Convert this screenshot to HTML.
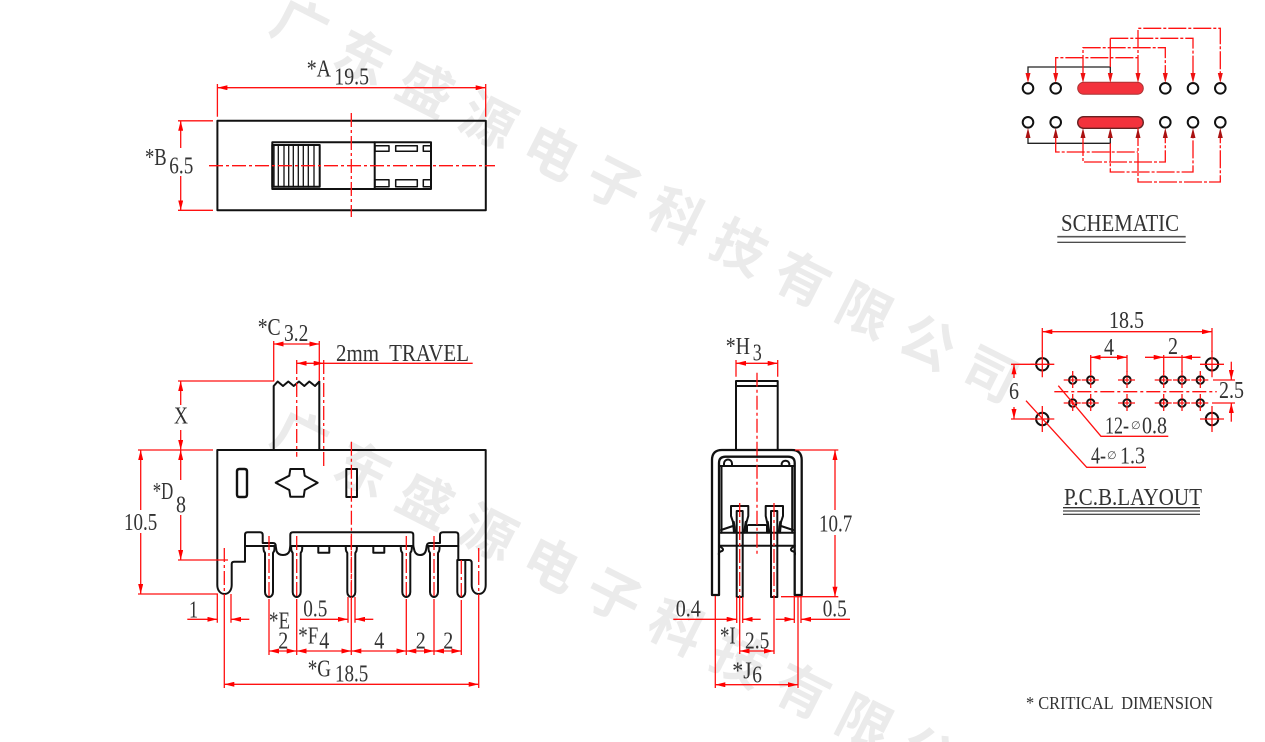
<!DOCTYPE html>
<html><head><meta charset="utf-8"><style>
html,body{margin:0;padding:0;background:#fff;width:1265px;height:742px;overflow:hidden}
svg{display:block}
.t{font-family:"Liberation Serif","DejaVu Serif",serif;font-size:24px;fill:#333}
.b{fill:none;stroke:#111;stroke-width:2;stroke-linejoin:round;stroke-linecap:round}
.r{fill:none;stroke:#f11;stroke-width:1.3}
.c{fill:none;stroke:#f11;stroke-width:1.3;stroke-dasharray:14 3 3 3}
.a{fill:none;stroke:#f11;stroke-width:1.3;marker-start:url(#m);marker-end:url(#m)}
.e{fill:none;stroke:#f11;stroke-width:1.3;marker-end:url(#m)}
.w{font-family:"Noto Sans CJK SC","Liberation Sans",sans-serif;font-weight:700;font-size:54px;fill:#ebebeb;text-anchor:middle}
</style></head><body>
<svg width="1265" height="742" viewBox="0 0 1265 742" xmlns="http://www.w3.org/2000/svg">
<defs>
<marker id="m" viewBox="0 0 10 5" refX="10" refY="2.5" markerWidth="10" markerHeight="5" markerUnits="userSpaceOnUse" orient="auto-start-reverse"><path d="M0 0L10 2.5L0 5z" fill="#f00"/></marker>
<g id="pin"><path class="b" d="M-5.5 546v3q0 2 1.5 4V592a4 5 0 0 0 8 0V553q1.5-2 1.5-4v-3"/><path class="c" d="M0 536V600"/></g>
<g id="sm"><circle r="3.7" fill="none" stroke="#111" stroke-width="2"/><path class="r" d="M-9 0H9M0-9V9" stroke-dasharray="5 1"/></g>
<g id="bg"><circle r="6.2" fill="none" stroke="#111" stroke-width="2"/><path class="r" d="M-12 0H12M0-13V13"/></g>
<clipPath id="pg"><rect width="1265" height="742"/></clipPath>
</defs>

<!-- watermark -->
<g class="w" clip-path="url(#pg)">
<text transform="translate(300,26) rotate(26.8)" y="19" x="0 70.3 140.6 210.9 281.2 351.5 421.8 492.1 562.4 632.7 703 773.3">广东盛源电子科技有限公司</text>
<text transform="translate(300,438) rotate(26.8)" y="19" x="0 70.3 140.6 210.9 281.2 351.5 421.8 492.1 562.4 632.7 703">广东盛源电子科技有限公</text>
</g>

<!-- TOP VIEW -->
<rect class="b" x="217.4" y="120.8" width="268.4" height="89.5"/>
<rect class="b" x="272.3" y="142.3" width="158.7" height="46.7"/>
<path class="b" d="M374.7 142.3V189"/>
<rect class="b" x="272.3" y="145" width="47.4" height="41.7"/>
<path class="b" style="stroke-width:1.3" d="M274 145V187M278.3 145V187M284 145V187M288.7 145V187M293.3 145V187M298.3 145V187M303.3 145V187M308.3 145V187M314 145V187"/>
<g class="b" style="stroke-width:1.5">
<rect x="375" y="145.7" width="14" height="5.6"/><rect x="395.7" y="145.7" width="21.6" height="5.6"/><path d="M431 145.7H423.3V151.3H431"/>
<rect x="375" y="179.7" width="14" height="7"/><rect x="395.7" y="179.7" width="21.6" height="7"/><path d="M431 179.7H423.3V186.7H431"/>
</g>
<path class="c" d="M351.3 113V217M209 165.7H495"/>
<path class="a" d="M217.4 87.7H485.7"/>
<path class="r" d="M217.4 84V116.7M485.7 84V116.7M178 120.8H213M178 210.3H213"/>
<path class="a" d="M180.7 120.8V210.3"/>
<text class="t" x="306.7" y="76.7" textLength="24.3" lengthAdjust="spacingAndGlyphs">*A</text>
<text class="t" x="334.3" y="84.3" textLength="34.7" lengthAdjust="spacingAndGlyphs">19.5</text>
<rect x="145" y="148" width="50" height="28" fill="#fff"/>
<text class="t" x="145" y="165" textLength="21.7" lengthAdjust="spacingAndGlyphs">*B</text>
<text class="t" x="169.3" y="173.3" textLength="24" lengthAdjust="spacingAndGlyphs">6.5</text>

<!-- FRONT VIEW -->
<path class="b" d="M273.7 450V386L277.7 381.5L283 386L288.3 381.5L293.7 386L299 381.5L304.3 386L309.3 381.5L315 386L319.3 381.5V450"/>
<path class="b" d="M485.7 585V450H217.3V585C217.3 591 221 594 224.5 594S231.7 591 231.7 585V564Q231.7 561.7 234 561.7H245V535Q245 532.3 247.5 532.3H260Q262.7 532.3 262.7 535V543H273Q275.7 543 275.7 546L276.5 551Q278 555 283 555Q288 555 289.5 551L290.3 546V535Q290.3 532.3 293 532.3H410.5Q413.3 532.3 413.3 535V546L414.5 551Q416 555 420 555Q425 555 426 550L426.7 546Q427 543 430 543H440V535Q440 532.3 443 532.3H455.5Q458.3 532.3 458.3 535V560H469Q471.7 560 471.7 563V585C471.7 591 475 594 478.7 594S485.7 591 485.7 585"/>
<path class="b" d="M245 546H275M290.3 546H413.3M426.7 546H458.3"/>
<path class="b" d="M457.3 560V592a4 5 0 0 0 8 0V560"/>
<path class="c" d="M461.3 560V600"/>
<path class="b" d="M318.3 546V552.7H329.3V546M373.3 546V552.7H384.3V546"/>
<use href="#pin" x="269"/><use href="#pin" x="296.7"/><use href="#pin" x="351.3"/><use href="#pin" x="406.3"/><use href="#pin" x="434"/>
<path class="b" style="stroke-width:2.4" d="M239.5 469H244.5Q247 469 247 471.5V494.5Q247 497 244.5 497H239.5Q237 497 237 494.5V471.5Q237 469 239.5 469Z"/>
<rect class="b" x="346.3" y="469" width="10.7" height="28"/>
<path class="b" d="M275.7 482.7L289.3 475.7L290.3 469H303.7L304.7 475.7L317.7 482.7L304.7 490L303.7 496.7H290.3L289.3 490Z"/>

<path class="c" d="M351.4 441.7V600M296.7 360V456.7M323.7 360V468.7"/>
<path class="c" d="M224.3 548V594M478.7 548V594"/>
<path class="r" d="M273.7 341V381H178M319.3 341V381"/>
<path class="a" d="M273.7 344H319.3"/>
<path class="a" d="M296.7 363.3H323.7"/>
<path class="r" d="M323.7 363.3H472.7"/>
<path class="r" d="M138 450H213M138 594H218M178 560H228"/>
<path class="e" d="M180.7 405V381"/><path class="e" d="M180.7 430V450"/>
<path class="e" d="M180.7 480V450"/><path class="e" d="M180.7 515V560"/>
<path class="e" d="M140.7 510V450"/><path class="e" d="M140.7 533V594"/>
<path class="r" d="M217.3 594V622.7M231 594V622.7M348 597V622.7M355 597V622.7"/>
<path class="e" d="M187.3 619.3H217.3"/><path class="e" d="M249.3 619.3H231"/>
<path class="e" d="M300 619.3H348"/><path class="e" d="M373.3 619.3H355"/>
<path class="r" d="M269 600V655M296.7 600V655M351.3 600V655M406.3 600V655M434 600V655M461.3 600V655M224.3 594V688M478.7 594V688"/>
<path class="a" d="M269 651H296.7"/><path class="a" d="M296.7 651H351.3"/><path class="a" d="M351.3 651H406.3"/><path class="a" d="M406.3 651H434"/><path class="a" d="M434 651H461.3"/>
<path class="a" d="M224.3 684.3H478.7"/>

<text class="t" x="257.7" y="335" textLength="23" lengthAdjust="spacingAndGlyphs">*C</text>
<text class="t" x="284" y="341" textLength="24.3" lengthAdjust="spacingAndGlyphs">3.2</text>
<text class="t" x="336" y="361" textLength="133" lengthAdjust="spacingAndGlyphs" xml:space="preserve">2mm  TRAVEL</text>
<text class="t" x="174" y="423.3" textLength="14" lengthAdjust="spacingAndGlyphs">X</text>
<text class="t" x="152.7" y="499" textLength="20.5" lengthAdjust="spacingAndGlyphs">*D</text>
<text class="t" x="176" y="512.7" textLength="10" lengthAdjust="spacingAndGlyphs">8</text>
<text class="t" x="124" y="530" textLength="33.3" lengthAdjust="spacingAndGlyphs">10.5</text>
<text class="t" x="189" y="617.3" textLength="9" lengthAdjust="spacingAndGlyphs">1</text>
<text class="t" x="303.3" y="616.7" textLength="24" lengthAdjust="spacingAndGlyphs">0.5</text>
<text class="t" x="269" y="628.3" textLength="21" lengthAdjust="spacingAndGlyphs">*E</text>
<text class="t" x="278.3" y="648.3" textLength="10" lengthAdjust="spacingAndGlyphs">2</text>
<text class="t" x="298.3" y="643.3" textLength="20" lengthAdjust="spacingAndGlyphs">*F</text>
<text class="t" x="319.3" y="648.3" textLength="10" lengthAdjust="spacingAndGlyphs">4</text>
<text class="t" x="374.3" y="648.3" textLength="10" lengthAdjust="spacingAndGlyphs">4</text>
<text class="t" x="415.7" y="648.3" textLength="10" lengthAdjust="spacingAndGlyphs">2</text>
<text class="t" x="443.3" y="648.3" textLength="10" lengthAdjust="spacingAndGlyphs">2</text>
<text class="t" x="307.7" y="676.7" textLength="23.3" lengthAdjust="spacingAndGlyphs">*G</text>
<text class="t" x="335" y="681.7" textLength="33.3" lengthAdjust="spacingAndGlyphs">18.5</text>

<!-- SIDE VIEW -->
<path class="b" d="M736 450V381H777.7V450M736 386H777.7"/>
<path class="b" style="stroke-width:2.3" d="M712 595V460Q712 450 722 450H791.7Q801.7 450 801.7 460V595H794.7V463Q794.7 456.7 788 456.7H725.7Q719 456.7 719 463V595Z"/>
<path class="b" d="M719 466H794.7M721.5 466V532.7M792.2 466V532.7"/>
<path class="b" d="M724 466V463.5a4 4 0 0 1 8 0V466M781.7 466V463.5a4 4 0 0 1 7.6 0V466"/>
<path class="b" d="M719 532.7H794.7M719 545.7H794.7"/>
<path class="b" d="M719 546Q725 549 722 551Q718 552 719 555M794.7 546Q789 549 792 551Q796 552 794.7 555"/>
<path class="b" d="M721 530L733 526M793 530L781 526M748.3 525H765.7M747 532V525.5M767 532V525.5"/>
<path class="b" d="M734 532.7L733 522L731 516V506H748.3V516L746 524L744 532.7"/>
<path class="b" d="M768 532.7L767.5 524L765.7 516V506H783V516L781 522L780 532.7"/>
<path class="b" d="M736.7 597V511H742.7V597ZM771 597V511H777.3V597Z"/>
<path class="b" style="stroke-width:2.6" d="M735 532L733.5 522M744.5 532L746 522M769 532L767.5 522M779 532L780.5 522"/>
<path class="c" d="M757 372.7V556M739.7 503V597M774 503V597"/>
<path class="a" d="M736 363.3H777.7"/>
<path class="r" d="M736 360V376.7M777.7 360V376.7M795 450H838.3M781 596.7H838.3"/>
<path class="e" d="M835 510V450"/><path class="e" d="M835 535V596.7"/>
<path class="r" d="M736.7 597V623M742.7 597V623M794.3 597V623M801 597V623M739.7 597V654M774 597V654M715.3 596V688M798 596V688"/>
<path class="e" d="M673.3 619.3H736.7"/><path class="e" d="M760.7 619.3H742.7"/>
<path class="e" d="M775.7 619.3H794.3"/><path class="e" d="M850 619.3H801"/>
<path class="a" d="M739.7 651H774"/>
<path class="a" d="M715.3 684.7H798"/>
<text class="t" x="725.7" y="354" textLength="24.3" lengthAdjust="spacingAndGlyphs">*H</text>
<text class="t" x="752.7" y="360.7" textLength="9" lengthAdjust="spacingAndGlyphs">3</text>
<text class="t" x="819" y="531.7" textLength="33.3" lengthAdjust="spacingAndGlyphs">10.7</text>
<text class="t" x="675.7" y="616.7" textLength="25" lengthAdjust="spacingAndGlyphs">0.4</text>
<text class="t" x="822.7" y="616.7" textLength="24" lengthAdjust="spacingAndGlyphs">0.5</text>
<text class="t" x="720" y="643.3" textLength="15.7" lengthAdjust="spacingAndGlyphs">*I</text>
<text class="t" x="745" y="648.3" textLength="24.3" lengthAdjust="spacingAndGlyphs">2.5</text>
<text class="t" x="732.3" y="678.3" textLength="19.4" lengthAdjust="spacingAndGlyphs">*J</text>
<text class="t" x="752.3" y="682.3" textLength="9.7" lengthAdjust="spacingAndGlyphs">6</text>

<!-- SCHEMATIC -->
<g fill="none" stroke="#111" stroke-width="2">
<circle cx="1028" cy="88.3" r="5.3"/><circle cx="1055.7" cy="88.3" r="5.3"/><circle cx="1165.3" cy="88.3" r="5.3"/><circle cx="1193" cy="88.3" r="5.3"/><circle cx="1220.3" cy="88.3" r="5.3"/>
<circle cx="1028" cy="122.3" r="5.3"/><circle cx="1055.7" cy="122.3" r="5.3"/><circle cx="1165.3" cy="122.3" r="5.3"/><circle cx="1193" cy="122.3" r="5.3"/><circle cx="1220.3" cy="122.3" r="5.3"/>
</g>
<rect x="1077.7" y="82.3" width="65.6" height="12" rx="6" fill="#f3323c" stroke="#a33" stroke-width="1"/>
<rect x="1077.7" y="116.7" width="65.6" height="11.6" rx="5.8" fill="#f3323c" stroke="#622" stroke-width="1.4"/>
<path fill="none" stroke="#222" stroke-width="1.3" d="M1028 73V67H1110.3V73M1028 138V143.3H1110.3V138"/>
<path class="r" d="M1110.3 67V38.3"/>
<g class="c" style="stroke-dasharray:18 2 3 2">
<path d="M1110.3 38.3H1193V73"/><path d="M1055.7 73V57.7H1138"/><path d="M1138 73V28.3H1220.3V73"/><path d="M1083 73V47.7H1165.3V73"/>
<path d="M1055.7 138V152H1138"/><path d="M1083 138V162H1165.3V138"/><path d="M1110.3 143.3V172H1193V138"/><path d="M1138 128V182H1220.3V138"/>
</g>
<g fill="#e11">
<path d="M1025.5 73h5l-2.5 10zM1053.2 73h5l-2.5 10zM1080.5 73h5l-2.5 10zM1107.8 73h5l-2.5 10zM1135.5 73h5l-2.5 10zM1162.8 73h5l-2.5 10zM1190.5 73h5l-2.5 10zM1217.8 73h5l-2.5 10z"/>
</g>
<g fill="#a11">
<path d="M1025.5 138h5l-2.5-10zM1053.2 138h5l-2.5-10zM1080.5 138h5l-2.5-10zM1107.8 138h5l-2.5-10zM1135.5 138h5l-2.5-10zM1162.8 138h5l-2.5-10zM1190.5 138h5l-2.5-10zM1217.8 138h5l-2.5-10z"/>
</g>
<text class="t" x="1061" y="231" textLength="118" lengthAdjust="spacingAndGlyphs">SCHEMATIC</text>
<path fill="none" stroke="#555" stroke-width="1.6" d="M1057.3 236.7H1185.7"/>
<path fill="none" stroke="#111" stroke-width="1" d="M1057.3 242.3H1185.7"/>

<!-- PCB -->
<path class="c" d="M1054.3 391.7H1216.7"/>
<use href="#bg" x="1042.3" y="364.3"/><use href="#bg" x="1212" y="364.3"/><use href="#bg" x="1042.3" y="419"/><use href="#bg" x="1212" y="419"/>
<use href="#sm" x="1072.7" y="380"/><use href="#sm" x="1090.7" y="380"/><use href="#sm" x="1127" y="380"/><use href="#sm" x="1163.7" y="380"/><use href="#sm" x="1182" y="380"/><use href="#sm" x="1200.3" y="380"/>
<use href="#sm" x="1072.7" y="403"/><use href="#sm" x="1090.7" y="403"/><use href="#sm" x="1127" y="403"/><use href="#sm" x="1163.7" y="403"/><use href="#sm" x="1182" y="403"/><use href="#sm" x="1200.3" y="403"/>
<path class="r" d="M1042.3 328V352M1212 328V352M1090.7 355V372M1127 355V372M1163.7 355V372M1182 355V372M1011 364.3H1034M1011 419H1034M1213 380H1235M1212 403H1235"/>
<path class="a" d="M1042.3 331.7H1212"/>
<path class="a" d="M1090.7 357.3H1127"/>
<path class="e" d="M1145 357.3H1163.7"/><path class="e" d="M1200.5 357.3H1182"/><path class="r" d="M1163.7 357.3H1182"/>
<path class="e" d="M1014 378V364.3"/><path class="e" d="M1014 407V419"/>
<path class="e" d="M1231.3 361.7V380"/><path class="e" d="M1231.3 421.7V403"/>
<path class="r" d="M1058.3 385.7L1101 436.3H1168.3M1026 400.7L1086.7 467.3H1146"/>
<text class="t" x="1109" y="328" textLength="35" lengthAdjust="spacingAndGlyphs">18.5</text>
<text class="t" x="1104" y="355" textLength="10" lengthAdjust="spacingAndGlyphs">4</text>
<text class="t" x="1168" y="354" textLength="10" lengthAdjust="spacingAndGlyphs">2</text>
<text class="t" x="1009" y="399" textLength="10" lengthAdjust="spacingAndGlyphs">6</text>
<text class="t" x="1219" y="398" textLength="25" lengthAdjust="spacingAndGlyphs">2.5</text>
<text class="t" x="1105" y="433.3" textLength="24" lengthAdjust="spacingAndGlyphs">12-</text>
<text x="1131" y="429" font-family="DejaVu Sans, sans-serif" font-size="11" fill="#444">∅</text>
<text class="t" x="1142" y="433.3" textLength="25" lengthAdjust="spacingAndGlyphs">0.8</text>
<text class="t" x="1091" y="463.3" textLength="15" lengthAdjust="spacingAndGlyphs">4-</text>
<text x="1107" y="459" font-family="DejaVu Sans, sans-serif" font-size="11" fill="#444">∅</text>
<text class="t" x="1120" y="463.3" textLength="25" lengthAdjust="spacingAndGlyphs">1.3</text>
<text class="t" x="1064" y="505" textLength="138" lengthAdjust="spacingAndGlyphs">P.C.B.LAYOUT</text>
<path fill="none" stroke="#333" stroke-width="1.4" d="M1063 507.7H1200"/>
<path fill="none" stroke="#111" stroke-width="1" d="M1063 511H1200M1063 514.3H1200"/>

<text class="t" x="1026" y="709" style="font-size:18px" textLength="187" lengthAdjust="spacingAndGlyphs" xml:space="preserve">* CRITICAL  DIMENSION</text>
</svg>
</body></html>
